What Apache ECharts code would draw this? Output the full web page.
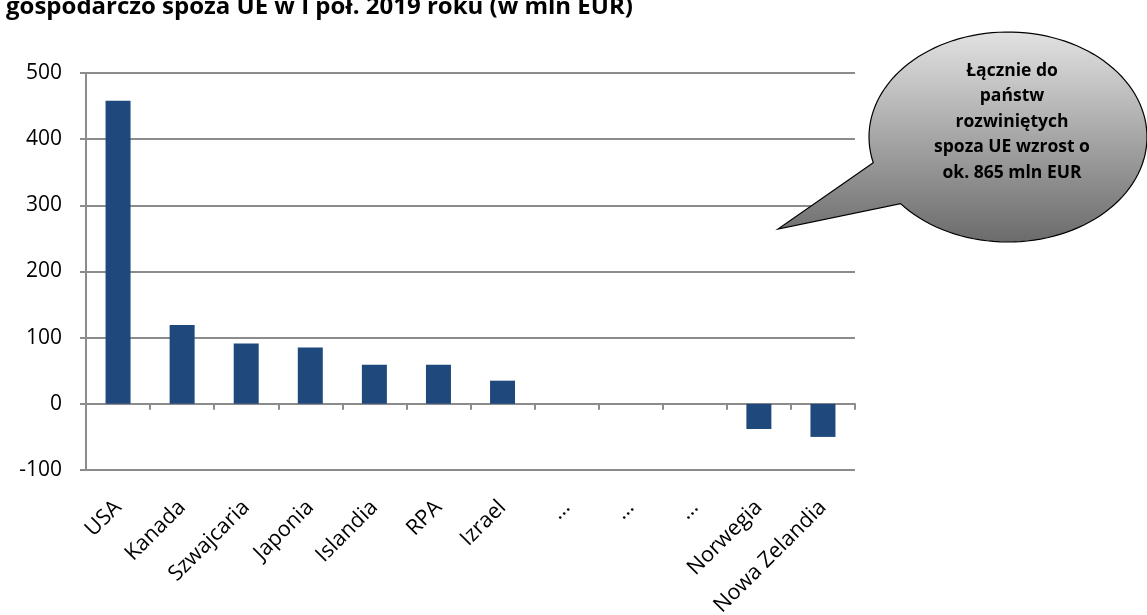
<!DOCTYPE html>
<html>
<head>
<meta charset="utf-8">
<script src="https://cdn.jsdelivr.net/npm/echarts@6/dist/echarts.min.js"></script>
<style>
html,body{margin:0;padding:0;background:#fff;}
#chart{width:1147px;height:615px;}
</style>
</head>
<body>
<div id="chart"></div>
<script>
const titleText = 'gospodarczo spoza UE w I poł. 2019 roku (w mln EUR)';
const categories = ['USA','Kanada','Szwajcaria','Japonia','Islandia','RPA','Izrael','...','...','...','Norwegia','Nowa Zelandia'];
const values = [458, 119, 91, 85, 59, 59, 35, null, null, null, -38, -50];
const yTicks = { min: -100, max: 500, interval: 100 };
const calloutLines = ['Łącznie do','państw','rozwiniętych','spoza UE wzrost o','ok. 865 mln EUR'];

// speech bubble outline (decoration): ellipse + tail
function bubblePoints() {
  const cx = 1008, cy = 137, rx = 139, ry = 105;
  const a2 = 140.6 * Math.PI / 180, a1 = 165.8 * Math.PI / 180;
  const pts = [];
  const steps = 120;
  const start = a2, end = a1 - 2 * Math.PI;
  for (let i = 0; i <= steps; i++) {
    const t = start + (end - start) * i / steps;
    pts.push([cx + rx * Math.cos(t), cy + ry * Math.sin(t)]);
  }
  pts.push([778, 229]);
  return pts;
}

const chart = echarts.init(document.getElementById('chart'), null, {renderer:'canvas'});
const gray = '#8c8c8c';
const option = {
  animation: false,
  backgroundColor: '#ffffff',
  grid: { left: 86, right: 292, top: 73, bottom: 145, containLabel: false, outerBoundsMode: 'none' },
  xAxis: {
    type: 'category',
    data: categories,
    axisLine: { show: true, onZero: true, lineStyle: { color: gray, width: 2 } },
    axisTick: { show: true, length: 6, lineStyle: { color: gray, width: 2 } },
    axisLabel: {
      interval: 0, rotate: 45, margin: 34,
      fontFamily: 'Open Sans', fontSize: 21.5, color: '#000'
    },
    splitLine: { show: false }
  },
  yAxis: {
    type: 'value',
    min: yTicks.min, max: yTicks.max, interval: yTicks.interval,
    axisLine: { show: true, lineStyle: { color: gray, width: 2 } },
    axisTick: { show: true, length: 6, lineStyle: { color: gray, width: 2 } },
    axisLabel: { margin: 24, fontFamily: 'Open Sans', fontSize: 21, color: '#000' },
    splitLine: { show: true, lineStyle: { color: gray, width: 2 } }
  },
  series: [{
    type: 'bar',
    data: values,
    barWidth: 25,
    itemStyle: { color: '#1f497d' }
  }],
  graphic: [
    {
      type: 'text', x: 6, y: -5,
      style: { text: titleText, font: 'bold 24px "Open Sans"', fill: '#000' }
    },
    {
      type: 'polygon',
      shape: { points: bubblePoints() },
      style: {
        fill: {
          type: 'linear', x: 0, y: 0, x2: 0, y2: 1,
          colorStops: [
            { offset: 0, color: '#e2e2e2' },
            { offset: 1, color: '#6b6b6b' }
          ]
        },
        stroke: '#000', lineWidth: 1.2
      },
      z: 10
    },
    {
      type: 'text',
      x: 1012, y: 122,
      style: {
        text: calloutLines.join('\n'),
        font: 'bold 17.5px "Open Sans"',
        fill: '#000',
        align: 'center', verticalAlign: 'middle',
        lineHeight: 25.5
      },
      z: 11
    }
  ]
};
chart.setOption(option);
</script>
</body>
</html>
